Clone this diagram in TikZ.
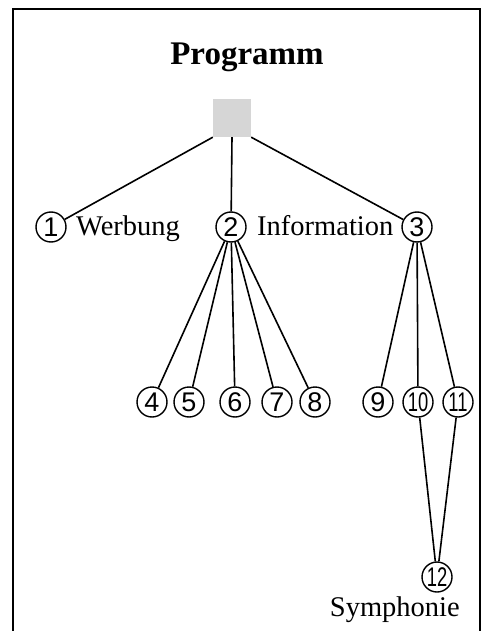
\documentclass[tikz,border=0pt]{standalone}
\usepackage{fontspec}
\usepackage{graphicx}
\setmainfont{Liberation Serif}
\newfontfamily\digitfont{Liberation Sans}
\newcommand{\nar}[1]{\scalebox{0.68}[1]{#1}}
\begin{document}
\begin{tikzpicture}[x=1pt,y=-1pt,
  num/.style={circle,draw,line width=1.4pt,minimum size=30pt,inner sep=0pt,
    font=\digitfont\fontsize{27}{27}\selectfont},
  lbl/.style={font=\fontsize{28.5}{28.5}\selectfont,inner sep=0pt},
  edge/.style={line width=1.6pt},
  frame/.style={line width=1.8pt}]
\useasboundingbox (0,0) rectangle (487,631);
\draw[frame] (13,640) -- (13,9) -- (480,9) -- (480,640);
\node[font=\bfseries\fontsize{33}{33}\selectfont,inner sep=0pt] (title) at (247,57) {Programm};
\node[fill=black!16,minimum size=38pt,inner sep=0pt] (sq) at (232,118) {};
\node[num] (c1) at (51,227) {1};
\node[num] (c2) at (231,227) {2};
\node[num] (c3) at (417,227) {3};
\node[num] (c4) at (152,402) {4};
\node[num] (c5) at (189,402) {5};
\node[num] (c6) at (235,402) {6};
\node[num] (c7) at (277,402) {7};
\node[num] (c8) at (315,402) {8};
\node[num] (c9) at (378,402) {9};
\node[num] (c10) at (418,402) {\nar{10}};
\node[num] (c11) at (458,402) {\nar{11}};
\node[num] (c12) at (437,577) {\nar{12}};
\node[lbl,anchor=base west] (werb) at (76,235) {Werbung};
\node[lbl,anchor=base west] (info) at (257,235) {Information};
\node[lbl,anchor=base east] (sym) at (460,616) {Symphonie};
\draw[edge] (sq.south west) -- (c1);
\draw[edge] (sq.south) -- (c2);
\draw[edge] (sq.south east) -- (c3);
\foreach \k in {4,...,8} \draw[edge] (c2) -- (c\k);
\foreach \k in {9,10,11} \draw[edge] (c3) -- (c\k);
\draw[edge] (c10) -- (c12);
\draw[edge] (c11) -- (c12);
\end{tikzpicture}
\end{document}
